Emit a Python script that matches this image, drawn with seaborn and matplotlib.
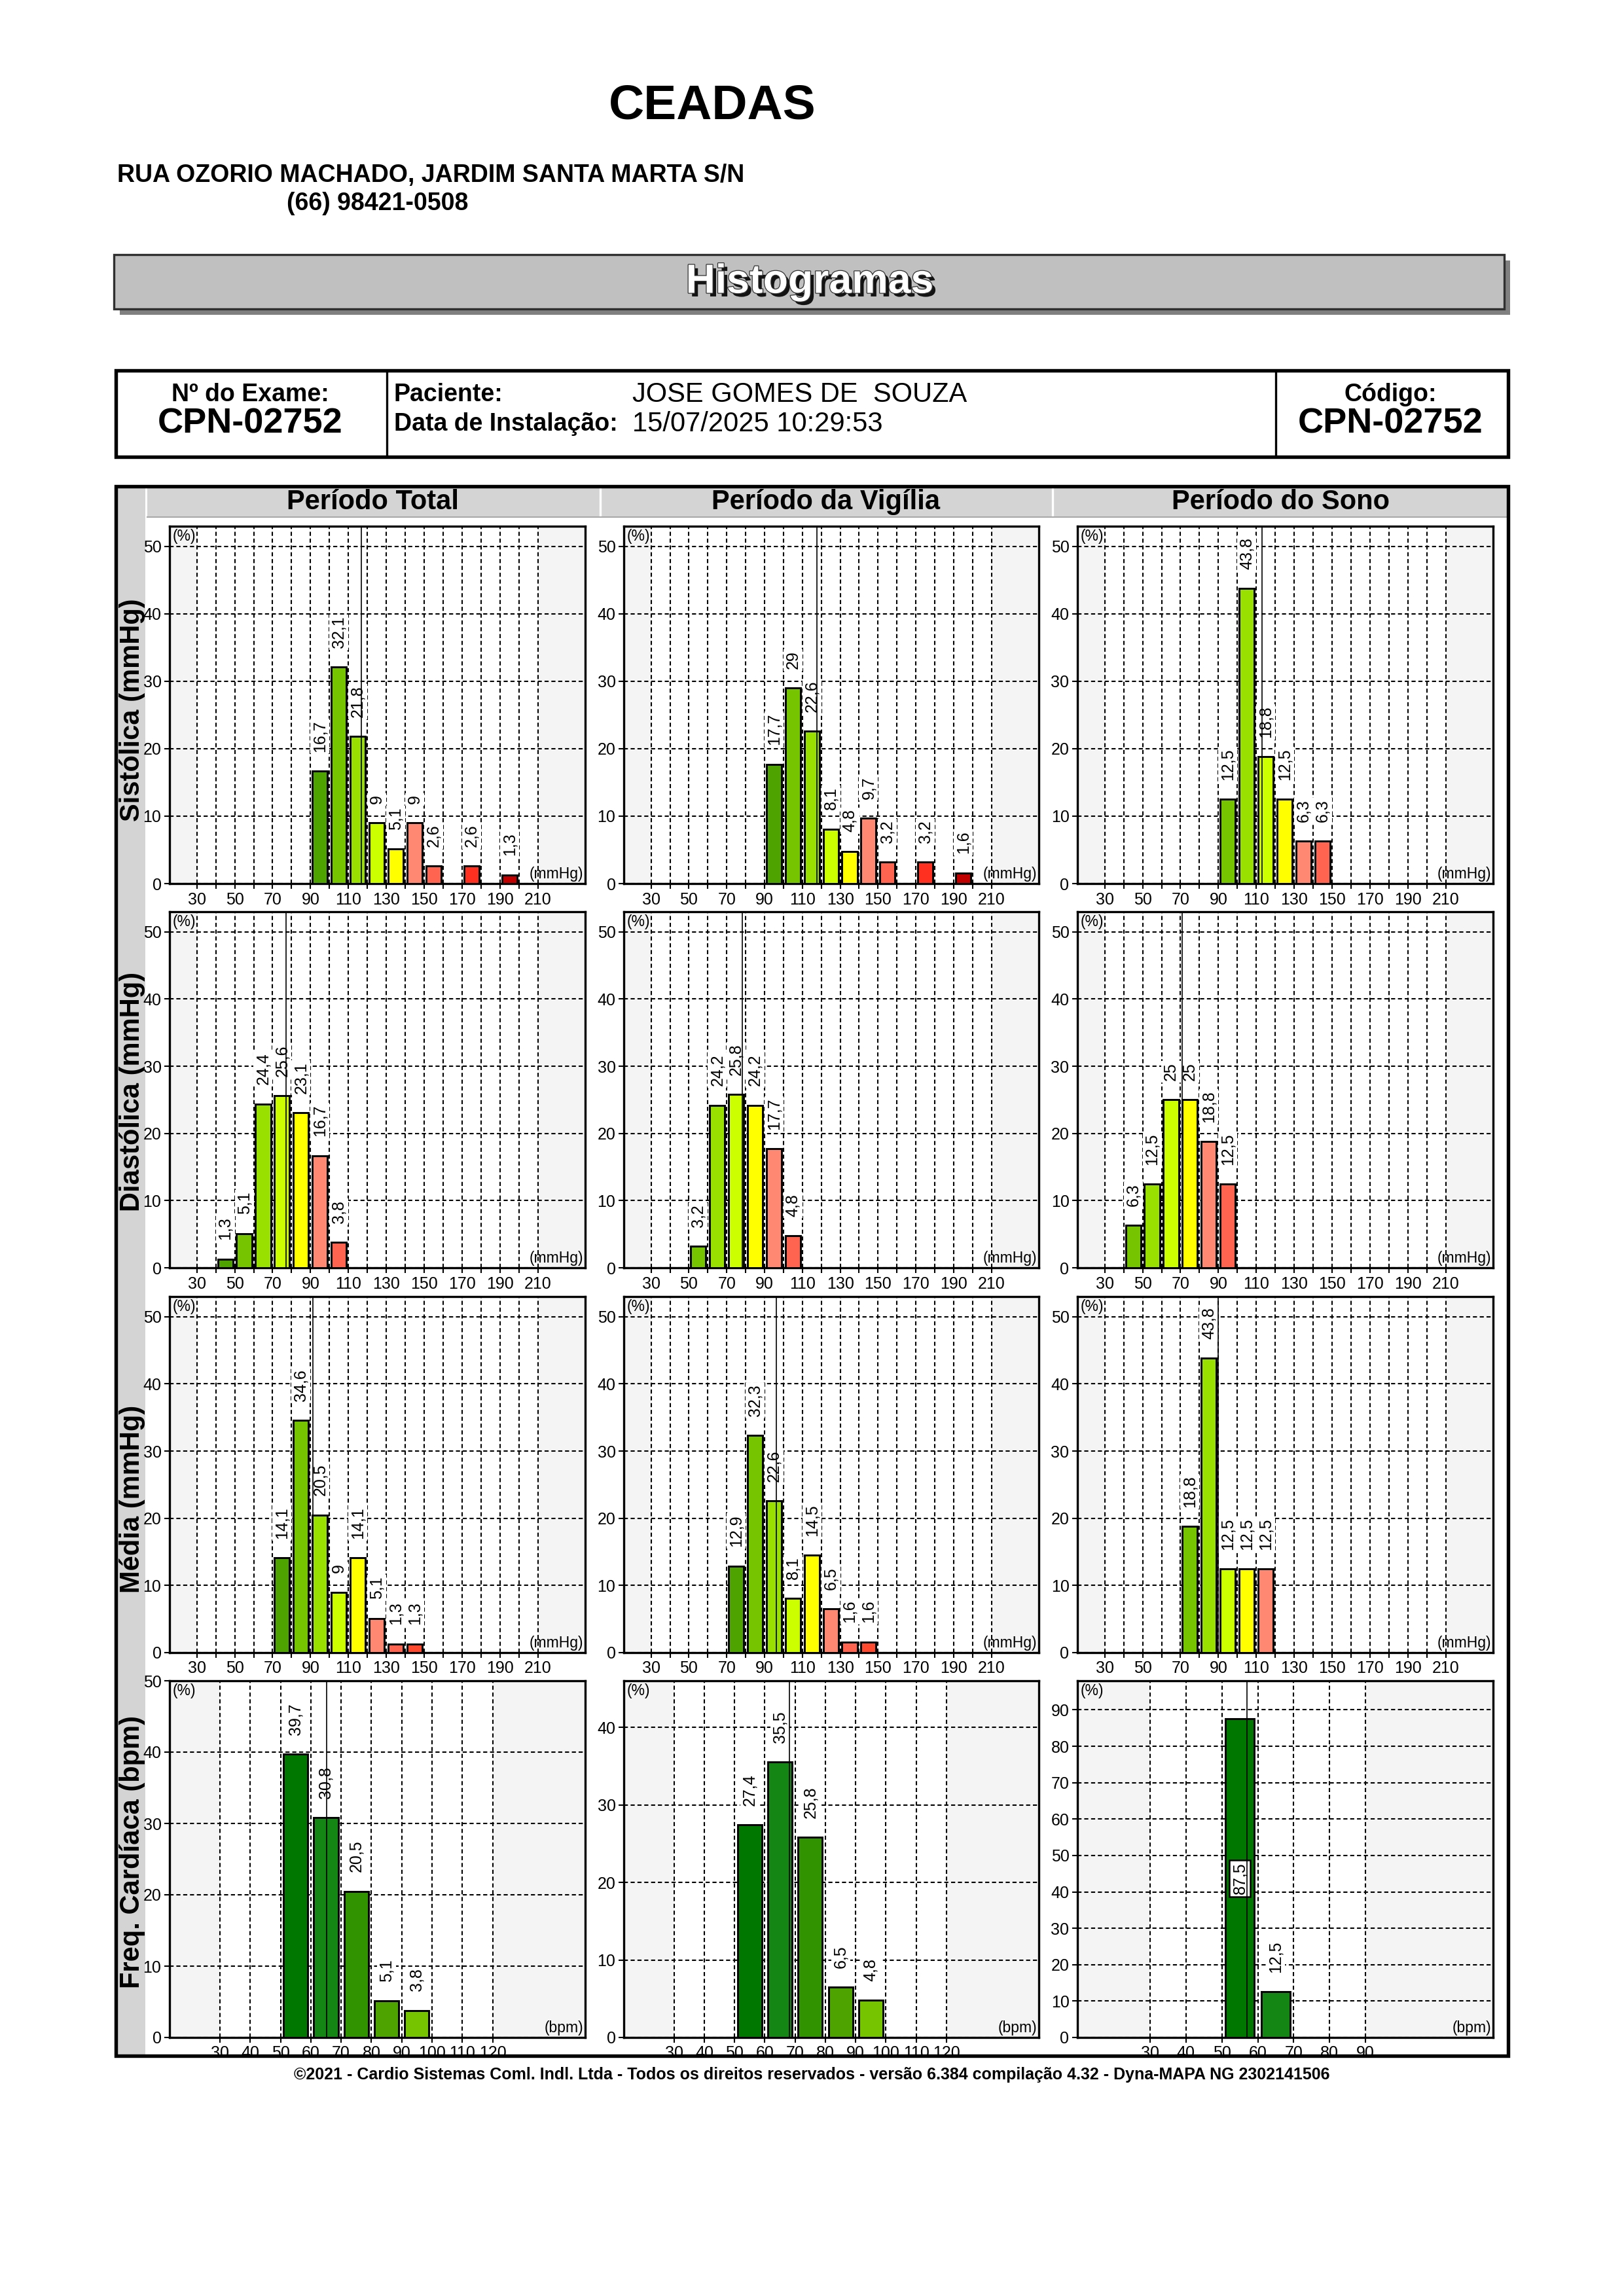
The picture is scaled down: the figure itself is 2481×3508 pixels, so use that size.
import pandas as pd
import seaborn as sns
import matplotlib.pyplot as plt
import matplotlib.patheffects as pe
from matplotlib.patches import Rectangle
from matplotlib.lines import Line2D

periodos = ['Período Total', 'Período da Vigília', 'Período do Sono']
medidas = ['Sistólica (mmHg)', 'Diastólica (mmHg)', 'Média (mmHg)', 'Freq. Cardíaca (bpm)']

# início de cada faixa (10 unidades) e % de medidas
sis_total_bins = [90, 100, 110, 120, 130, 140, 150, 170, 190]
sis_total_pct = [16.7, 32.1, 21.8, 9, 5.1, 9, 2.6, 2.6, 1.3]
sis_vig_bins = [90, 100, 110, 120, 130, 140, 150, 170, 190]
sis_vig_pct = [17.7, 29, 22.6, 8.1, 4.8, 9.7, 3.2, 3.2, 1.6]
sis_sono_bins = [90, 100, 110, 120, 130, 140]
sis_sono_pct = [12.5, 43.8, 18.8, 12.5, 6.3, 6.3]

dia_total_bins = [40, 50, 60, 70, 80, 90, 100]
dia_total_pct = [1.3, 5.1, 24.4, 25.6, 23.1, 16.7, 3.8]
dia_vig_bins = [50, 60, 70, 80, 90, 100]
dia_vig_pct = [3.2, 24.2, 25.8, 24.2, 17.7, 4.8]
dia_sono_bins = [40, 50, 60, 70, 80, 90]
dia_sono_pct = [6.3, 12.5, 25, 25, 18.8, 12.5]

med_total_bins = [70, 80, 90, 100, 110, 120, 130, 140]
med_total_pct = [14.1, 34.6, 20.5, 9, 14.1, 5.1, 1.3, 1.3]
med_vig_bins = [70, 80, 90, 100, 110, 120, 130, 140]
med_vig_pct = [12.9, 32.3, 22.6, 8.1, 14.5, 6.5, 1.6, 1.6]
med_sono_bins = [70, 80, 90, 100, 110]
med_sono_pct = [18.8, 43.8, 12.5, 12.5, 12.5]

fc_total_bins = [50, 60, 70, 80, 90]
fc_total_pct = [39.7, 30.8, 20.5, 5.1, 3.8]
fc_vig_bins = [50, 60, 70, 80, 90]
fc_vig_pct = [27.4, 35.5, 25.8, 6.5, 4.8]
fc_sono_bins = [50, 60]
fc_sono_pct = [87.5, 12.5]

# linha vertical = média de cada período
sis_media = [116.8, 117.6, 113.2]
dia_media = [77.1, 78.2, 70.8]
med_media = [91.3, 96.2, 89.9]
fc_media = [65.2, 68.2, 56.9]

# ---------------- estilo ----------------
plt.rcParams['font.family'] = ['Liberation Sans', 'DejaVu Sans']

bp_colors = ['#4EA300', '#76C300', '#99E000', '#CCFF00', '#FFFF00', '#FF8872',
             '#FF6450', '#FF4A30', '#FF3020', '#E01010', '#C00000']
fc_colors = ['#007800', '#138613', '#329300', '#4EA300', '#76C300']
bp_base = [90, 40, 70]   # faixa verde-escura de cada medida (vigília/total)

todos_bins = [[sis_total_bins, sis_vig_bins, sis_sono_bins],
              [dia_total_bins, dia_vig_bins, dia_sono_bins],
              [med_total_bins, med_vig_bins, med_sono_bins],
              [fc_total_bins, fc_vig_bins, fc_sono_bins]]
todos_pct = [[sis_total_pct, sis_vig_pct, sis_sono_pct],
             [dia_total_pct, dia_vig_pct, dia_sono_pct],
             [med_total_pct, med_vig_pct, med_sono_pct],
             [fc_total_pct, fc_vig_pct, fc_sono_pct]]
todas_medias = [sis_media, dia_media, med_media, fc_media]

W, H = 2481, 3508
fig = plt.figure(figsize=(W / 300, H / 300), dpi=300)


def fx(x):
    return x / W


def fy(y):
    return 1 - y / H


def caixa(x0, y0, x1, y1, **kw):
    fig.add_artist(Rectangle((fx(x0), fy(y1)), fx(x1) - fx(x0), fy(y0) - fy(y1),
                             transform=fig.transFigure, **kw))


def fmt(v):
    return f'{v:g}'.replace('.', ',')


cols_px = [(259, 894), (953, 1587), (1646, 2281)]
rows_px = [(804, 1350), (1393, 1937), (1981, 2525), (2568, 3113)]

for r in range(4):
    for c in range(3):
        x0, x1 = cols_px[c]
        y0, y1 = rows_px[r]
        ax = fig.add_axes([fx(x0), fy(y1), fx(x1) - fx(x0), fy(y0) - fy(y1)])
        bins = todos_bins[r][c]
        pct = todos_pct[r][c]
        centros = [b + 5 for b in bins]

        if r < 3:
            shift = 1 if c == 2 else 0
            cores = [bp_colors[(b - bp_base[r]) // 10 + shift] for b in bins]
            xlim, ymax = (15.6, 235), 53
            major, minor = list(range(30, 211, 20)), list(range(40, 201, 20))
            yticks = list(range(0, 51, 10))
            area = (30, 210)
            unidade = '(mmHg)'
        else:
            cores = [fc_colors[(b - 50) // 10] for b in bins]
            xlim = [(13.4, 150.5), (13.4, 150.5), (9.8, 125.5)][c]
            ymax = [50, 46, 98][c]
            top = [120, 120, 90][c]
            major, minor = list(range(30, top + 1, 10)), []
            yticks = list(range(0, int(ymax) + 1, 10))
            area = (30, top)
            unidade = '(bpm)'

        ax.set_facecolor('#F4F4F4')
        ax.axvspan(area[0], area[1], color='white', zorder=0, lw=0)

        df = pd.DataFrame({'centro': centros, 'pct': pct, 'faixa': [str(v) for v in centros]})
        sns.barplot(data=df, x='centro', y='pct', hue='faixa', palette=cores,
                    native_scale=True, width=0.8, dodge=False, legend=False,
                    saturation=1, edgecolor='black', linewidth=0.7, ax=ax, zorder=3)

        ax.axvline(todas_medias[r][c], color='black', lw=0.4, zorder=6)

        for xc, v in zip(centros, pct):
            if v > 0.85 * ymax:
                ax.text(xc, v / 2, fmt(v), rotation=90, ha='center', va='center',
                        fontsize=6, zorder=5,
                        bbox=dict(boxstyle='square,pad=0.15', fc='white', ec='black', lw=0.6))
            else:
                ax.annotate(fmt(v), (xc, v), xytext=(0, 7), textcoords='offset points',
                            rotation=90, ha='center', va='bottom', fontsize=6, zorder=5,
                            bbox=dict(boxstyle='square,pad=0.1', fc='white', ec='none'))

        ax.set_xlim(*xlim)
        ax.set_ylim(0, ymax)
        ax.set_xticks(major)
        ax.set_xticklabels([str(t) for t in major])
        ax.set_xticks(minor, minor=True)
        ax.set_yticks(yticks)
        ax.set_xlabel('')
        ax.set_ylabel('')
        ax.set_axisbelow(True)
        ax.grid(True, which='both', axis='x', color='black', ls=(0, (3, 2)), lw=0.5)
        ax.grid(True, which='major', axis='y', color='black', ls=(0, (3, 2)), lw=0.5)
        ax.tick_params(axis='both', which='both', length=2, width=0.5, labelsize=6, pad=1)
        for s in ax.spines.values():
            s.set_color('black')
            s.set_linewidth(0.8)

        ax.text(0.008, 0.993, '(%)', transform=ax.transAxes, ha='left', va='top', fontsize=5.5)
        ax.text(0.995, 0.006, unidade, transform=ax.transAxes, ha='right', va='bottom', fontsize=5.5)

# ---------------- cabeçalho ----------------
fig.text(fx(1088), fy(162), 'CEADAS', ha='center', va='center', fontsize=18, weight='bold')
fig.text(fx(179), fy(268), 'RUA OZORIO MACHADO, JARDIM SANTA MARTA S/N', ha='left', va='center',
         fontsize=9, weight='bold')
fig.text(fx(438), fy(311), '(66) 98421-0508', ha='left', va='center', fontsize=9, weight='bold')

caixa(183, 398, 2307, 481, fc='#808080', ec='none', zorder=-2)
caixa(174, 389, 2298, 472, fc='#C0C0C0', ec='#303030', lw=0.8, zorder=-1)
fig.text(fx(1237), fy(431), 'Histogramas', ha='center', va='center', fontsize=15, weight='bold',
         color='white',
         path_effects=[pe.SimplePatchShadow(offset=(1.3, -1.3), shadow_rgbFace='black', alpha=0.9),
                       pe.Stroke(linewidth=0.6, foreground='#303030'), pe.Normal()])

caixa(177, 566, 2304, 698, fc='white', ec='black', lw=1.3, zorder=-1)
for xv in (591, 1949):
    fig.add_artist(Line2D([fx(xv), fx(xv)], [fy(566), fy(698)], transform=fig.transFigure,
                          color='black', lw=0.8))
fig.text(fx(382), fy(603), 'Nº do Exame:', ha='center', va='center', fontsize=9, weight='bold')
fig.text(fx(382), fy(647), 'CPN-02752', ha='center', va='center', fontsize=13, weight='bold')
fig.text(fx(602), fy(603), 'Paciente:', ha='left', va='center', fontsize=9, weight='bold')
fig.text(fx(966), fy(603), 'JOSE GOMES DE  SOUZA', ha='left', va='center', fontsize=10)
fig.text(fx(602), fy(648), 'Data de Instalação:', ha='left', va='center', fontsize=9, weight='bold')
fig.text(fx(966), fy(648), '15/07/2025 10:29:53', ha='left', va='center', fontsize=10)
fig.text(fx(2124), fy(603), 'Código:', ha='center', va='center', fontsize=9, weight='bold')
fig.text(fx(2124), fy(647), 'CPN-02752', ha='center', va='center', fontsize=13, weight='bold')

# ---------------- moldura da grade ----------------
caixa(179, 745, 222, 3140, fc='#D4D4D4', ec='none', zorder=-1)
caixa(225, 745, 2302, 789, fc='#D4D4D4', ec='none', zorder=-1)
for xv in (917, 1608):
    fig.add_artist(Line2D([fx(xv), fx(xv)], [fy(745), fy(789)], transform=fig.transFigure,
                          color='white', lw=0.8))
fig.add_artist(Line2D([fx(225), fx(2302)], [fy(790), fy(790)], transform=fig.transFigure,
                      color='#A8A8A8', lw=0.5))
caixa(177, 743, 2304, 3141, fc='none', ec='black', lw=1.3, zorder=4)

for xc, txt in zip([570, 1262, 1956], periodos):
    fig.text(fx(xc), fy(767), txt, ha='center', va='center', fontsize=10, weight='bold')
for yc, txt in zip([1085, 1668, 2290, 2830], medidas):
    fig.text(fx(202), fy(yc), txt, ha='center', va='center', fontsize=10, weight='bold',
             rotation=90)

fig.text(fx(1240), fy(3170),
         '©2021 - Cardio Sistemas Coml. Indl. Ltda - Todos os direitos reservados - '
         'versão 6.384 compilação 4.32 - Dyna-MAPA NG 2302141506',
         ha='center', va='center', fontsize=6, weight='bold')

fig.savefig('out.png', dpi=300, facecolor='white')
